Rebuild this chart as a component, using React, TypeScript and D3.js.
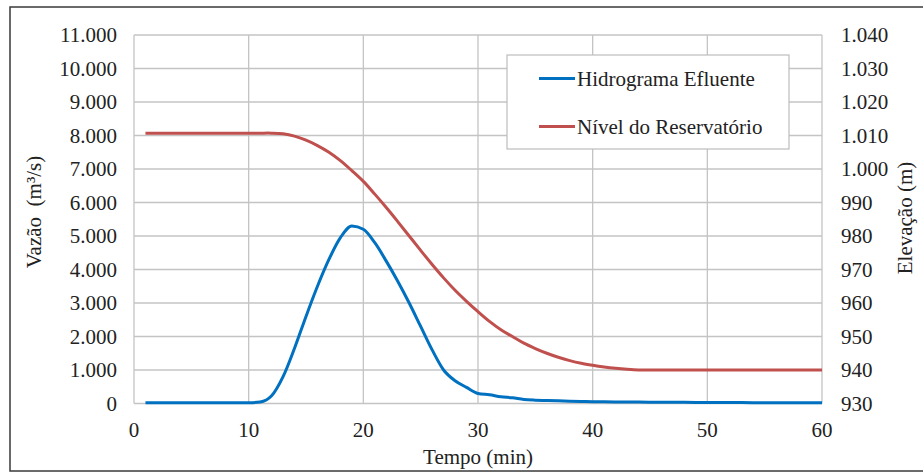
import React from "react";
import * as d3 from "d3";

const times: number[] = [1,2,3,4,5,6,7,8,9,10,11,12,13,14,15,16,17,18,19,20,21,22,23,24,25,26,27,28,29,30,31,32,33,34,35,36,37,38,39,40,41,42,43,44,45,46,47,48,49,50,51,52,53,54,55,56,57,58,59,60];
const vazao: number[] = [20,20,20,20,20,20,20,20,20,22,45,230,800,1650,2600,3500,4300,4950,5300,5200,4800,4250,3650,3000,2300,1600,1000,680,480,300,260,200,170,120,100,90,80,70,60,55,50,48,45,42,40,38,36,34,32,30,29,28,27,26,25,24,23,22,21,20];
const elevacao: number[] = [1010.7,1010.7,1010.7,1010.7,1010.7,1010.7,1010.7,1010.7,1010.7,1010.7,1010.7,1010.7,1010.5,1009.8,1008.6,1007.0,1005.0,1002.5,999.5,996.3,992.5,988.5,984.3,980.0,975.7,971.5,967.5,963.8,960.5,957.4,954.5,952.0,950.0,948.0,946.4,945.0,943.8,942.8,942.0,941.4,940.9,940.5,940.2,940.0,940.0,940.0,940.0,940.0,940.0,940.0,940.0,940.0,940.0,940.0,940.0,940.0,940.0,940.0,940.0,940.0];
const xTicks: number[] = [0,10,20,30,40,50,60];
const leftTicks: number[] = [0,1000,2000,3000,4000,5000,6000,7000,8000,9000,10000,11000];
const rightTicks: number[] = [930,940,950,960,970,980,990,1000,1010,1020,1030,1040];
const seriesNames: string[] = ["Hidrograma Efluente", "Nível do Reservatório"];
const seriesColors: string[] = ["#0070C0", "#C0504D"];

const fmt = (v: number) => {
  if (v < 1000) return String(v);
  const s = String(v);
  return s.slice(0, s.length - 3) + "." + s.slice(s.length - 3);
};

export default function App() {
  const W = 923, H = 473;
  const L = 134, R = 822, T = 35, B = 403.5;
  const x = d3.scaleLinear().domain([0, 60]).range([L, R]);
  const yL = d3.scaleLinear().domain([0, 11000]).range([B, T]);
  const yR = d3.scaleLinear().domain([930, 1040]).range([B, T]);
  const font = "'Liberation Serif', 'Times New Roman', serif";
  const fs = 21;

  const blueLine = d3.line<number>()
    .x((_, i) => x(times[i]))
    .y((d) => yL(d))
    .curve(d3.curveMonotoneX)(vazao) || "";
  const redLine = d3.line<number>()
    .x((_, i) => x(times[i]))
    .y((d) => yR(d))
    .curve(d3.curveCatmullRom.alpha(0.5))(elevacao) || "";

  const legX = 507, legY = 55, legW = 282, legH = 94;

  return (
    <svg width={W} height={H} style={{ position: "fixed", left: 0, top: 0, background: "#fff" }} fontFamily={font}>
      <rect x={0} y={0} width={W} height={H} fill="#fff" />
      <rect x={10} y={7} width={940} height={464} fill="none" stroke="#3a3a3a" strokeWidth={1.5} />
      {leftTicks.map((t) => (
        <line key={"h" + t} x1={L} x2={R} y1={yL(t)} y2={yL(t)} stroke="#c4c4c4" strokeWidth={1.3} />
      ))}
      {xTicks.map((t) => (
        <line key={"v" + t} x1={x(t)} x2={x(t)} y1={T} y2={B} stroke="#c4c4c4" strokeWidth={1.3} />
      ))}
      {leftTicks.map((t) => (
        <text key={"lt" + t} x={117} y={yL(t)} dy="0.35em" textAnchor="end" fontSize={fs} fill="#222">{fmt(t)}</text>
      ))}
      {rightTicks.map((t) => (
        <text key={"rt" + t} x={841} y={yR(t)} dy="0.35em" textAnchor="start" fontSize={fs} fill="#222">{fmt(t)}</text>
      ))}
      {xTicks.map((t) => (
        <text key={"xt" + t} x={x(t)} y={437} textAnchor="middle" fontSize={fs} fill="#222">{t}</text>
      ))}
      <text x={(L + R) / 2} y={464} textAnchor="middle" fontSize={fs} fill="#222">Tempo (min)</text>
      <text transform={`translate(41,${212}) rotate(-90)`} textAnchor="middle" fontSize={fs} fill="#222" style={{ whiteSpace: "pre" }}>{"Vazão  (m³/s)"}</text>
      <text transform={`translate(912,${218}) rotate(-90)`} textAnchor="middle" fontSize={fs} fill="#222">Elevação (m)</text>
      <path d={redLine} fill="none" stroke={seriesColors[1]} strokeWidth={3} />
      <path d={blueLine} fill="none" stroke={seriesColors[0]} strokeWidth={3} />
      <rect x={legX} y={legY} width={legW} height={legH} fill="#fff" stroke="#bdbdbd" strokeWidth={1.2} />
      {seriesNames.map((n, i) => (
        <g key={n}>
          <line x1={539} x2={575} y1={78.5 + i * 48} y2={78.5 + i * 48} stroke={seriesColors[i]} strokeWidth={3} />
          <text x={577} y={78.5 + i * 48} dy="0.35em" fontSize={fs} fill="#222">{n}</text>
        </g>
      ))}
    </svg>
  );
}
